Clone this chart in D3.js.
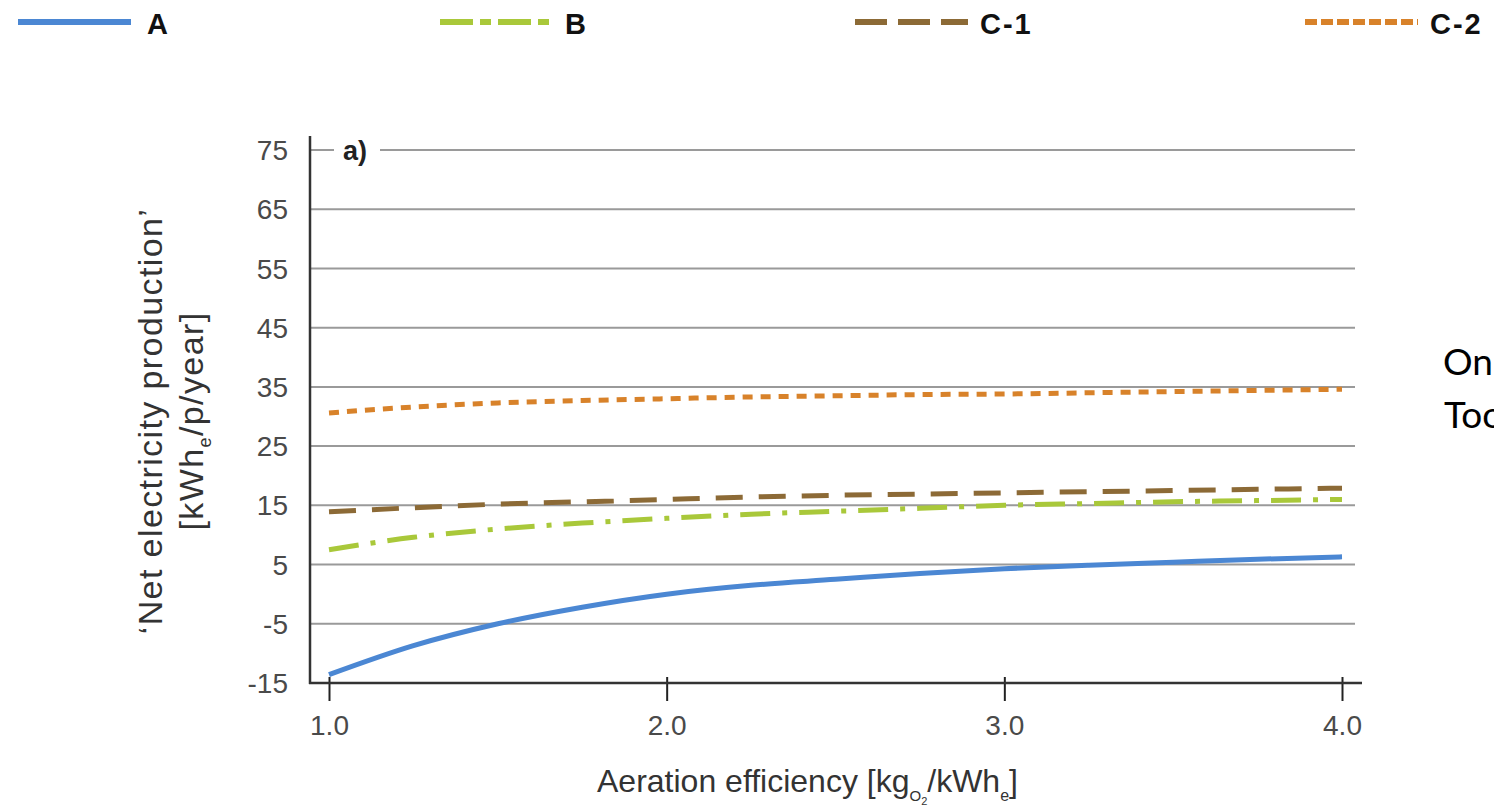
<!DOCTYPE html>
<html>
<head>
<meta charset="utf-8">
<script src="https://cdn.jsdelivr.net/npm/d3@7"></script>
<style>
  body { margin: 0; background: #fff; overflow: hidden; }
  .tick-label { font-family: "Liberation Sans", Arial, sans-serif; font-size: 28px; fill: #4a4a4a; }
  .axisText { font-family: "Liberation Sans", Arial, sans-serif; font-size: 32px; fill: #333; }
  .yText { font-size: 34px; letter-spacing: 1.4px; }
  .legendText { font-family: "Liberation Sans", Arial, sans-serif; font-size: 29px; font-weight: bold; fill: #111; letter-spacing: 2px; }
  .sideText { font-family: Lato, "Open Sans", sans-serif; font-size: 37px; fill: #000; }
</style>
</head>
<body>
<div id="chart"></div>
<script>
// data
var xValues = [1.0, 1.25, 1.5, 1.75, 2.0, 2.25, 2.5, 2.75, 3.0, 3.25, 3.5, 3.75, 4.0];
var seriesA = [-13.6, -8.7, -5.0, -2.2, 0.0, 1.5, 2.5, 3.5, 4.3, 4.9, 5.4, 5.9, 6.3];
var seriesB = [7.5, 9.6, 11.0, 12.0, 12.8, 13.5, 14.0, 14.5, 15.0, 15.3, 15.6, 15.8, 16.0];
var seriesC1 = [13.9, 14.6, 15.2, 15.6, 16.0, 16.4, 16.7, 16.9, 17.1, 17.3, 17.5, 17.7, 17.9];
var seriesC2 = [30.6, 31.6, 32.3, 32.7, 33.0, 33.3, 33.5, 33.7, 33.8, 34.0, 34.2, 34.4, 34.6];
var seriesNames = ["A", "B", "C-1", "C-2"];
var yTicks = [75, 65, 55, 45, 35, 25, 15, 5, -5, -15];
var xTicks = [1.0, 2.0, 3.0, 4.0];

var svgWidth = 1494;
var svgHeight = 809;

var svg = d3.select("#chart")
  .append("svg")
  .attr("width", svgWidth)
  .attr("height", svgHeight);

// line styles per series
var styles = {
  "A":   { color: "#4b87d3", dash: null,            legendDash: null },
  "B":   { color: "#a9c83a", dash: "30,12,5,12",    legendDash: "33,7,11,7" },
  "C-1": { color: "#8c6a36", dash: "27,16",         legendDash: "32,11" },
  "C-2": { color: "#d8822a", dash: "10,8",          legendDash: "12,4" }
};
var allSeries = [seriesA, seriesB, seriesC1, seriesC2];

// Step 1 - scales
var x = d3.scaleLinear().domain([1, 4]).range([329, 1342]);
var y = d3.scaleLinear().domain([-15, 75]).range([683, 150]);

// Step 2 - gridlines
svg.append("g")
  .selectAll("line")
  .data(yTicks)
  .enter()
  .append("line")
  .attr("x1", 310)
  .attr("x2", 1355)
  .attr("y1", d => y(d))
  .attr("y2", d => y(d))
  .attr("stroke", "#9a9a9a")
  .attr("stroke-width", 2);

// y tick labels
svg.append("g")
  .selectAll("text")
  .data(yTicks)
  .enter()
  .append("text")
  .attr("class", "tick-label")
  .attr("x", 288)
  .attr("y", d => y(d))
  .attr("dy", "0.36em")
  .attr("text-anchor", "end")
  .text(d => d);

// "a)" label with white box on the top gridline
svg.append("rect")
  .attr("x", 334).attr("y", 138)
  .attr("width", 46).attr("height", 26)
  .attr("fill", "#fff");
svg.append("text")
  .attr("x", 343)
  .attr("y", y(75))
  .attr("dy", "0.36em")
  .style("font-family", "Liberation Sans, Arial, sans-serif")
  .style("font-size", "27px")
  .style("font-weight", "bold")
  .style("fill", "#222")
  .text("a)");

// Step 3 - axes
svg.append("line")
  .attr("x1", 310).attr("x2", 310)
  .attr("y1", 136).attr("y2", 684)
  .attr("stroke", "#333").attr("stroke-width", 2.5);

var xaxis = d3.axisBottom(x)
  .tickValues(xTicks)
  .tickFormat(d3.format(".1f"))
  .tickSize(18)
  .tickSizeOuter(0);

var xg = svg.append("g")
  .attr("transform", "translate(0, 683)")
  .call(xaxis);
xg.select(".domain").remove();
xg.selectAll(".tick line")
  .attr("y1", -6)
  .attr("stroke", "#222")
  .attr("stroke-width", 2);
xg.selectAll(".tick text")
  .attr("class", "tick-label")
  .attr("y", 32)
  .attr("dy", "0.71em")
  .attr("font-family", null)
  .attr("font-size", null);
svg.append("line")
  .attr("x1", 309).attr("x2", 1362)
  .attr("y1", 683).attr("y2", 683)
  .attr("stroke", "#333").attr("stroke-width", 2.5);

// Step 4 - the curves
var line = d3.line()
  .x((d, i) => x(xValues[i]))
  .y(d => y(d))
  .curve(d3.curveMonotoneX);

svg.append("g")
  .selectAll("path")
  .data(allSeries)
  .enter()
  .append("path")
  .attr("d", d => line(d))
  .attr("fill", "none")
  .attr("stroke", (d, i) => styles[seriesNames[i]].color)
  .attr("stroke-width", 5)
  .attr("stroke-dasharray", (d, i) => styles[seriesNames[i]].dash);

// Step 5 - legend along the top
var legendX = [18, 440, 855, 1305];
var legend = svg.append("g")
  .selectAll("g")
  .data(seriesNames)
  .enter()
  .append("g")
  .attr("transform", (d, i) => `translate(${legendX[i]}, 22)`);
legend.append("line")
  .attr("x1", 0).attr("x2", 113)
  .attr("y1", 0).attr("y2", 0)
  .attr("stroke", d => styles[d].color)
  .attr("stroke-width", 6)
  .attr("stroke-dasharray", d => styles[d].legendDash);
legend.append("text")
  .attr("class", "legendText")
  .attr("x", (d, i) => i == 0 ? 129 : 125)
  .attr("y", 12)
  .text(d => d);

// Create axes labels
var yLabel = svg.append("text")
  .attr("class", "axisText yText")
  .attr("transform", "translate(162, 421) rotate(-90)")
  .attr("text-anchor", "middle");
yLabel.append("tspan").attr("x", 0).attr("y", 0).text("\u2018Net electricity production\u2019");
var yl2 = yLabel.append("tspan").attr("x", 0).attr("y", 41);
yl2.append("tspan").text("[kWh");
yl2.append("tspan").attr("dy", 8).style("font-size", "18px").text("e");
yl2.append("tspan").attr("dy", -8).text("/p/year]");

var xLabel = svg.append("text")
  .attr("class", "axisText")
  .attr("x", 597)
  .attr("y", 792);
xLabel.append("tspan").text("Aeration efficiency [kg");
xLabel.append("tspan").attr("dy", 9).style("font-size", "15px").text("O");
xLabel.append("tspan").attr("dy", 4).style("font-size", "11px").text("2");
xLabel.append("tspan").attr("dy", -13).text("/kWh");
xLabel.append("tspan").attr("dy", 9).style("font-size", "16px").text("e");
xLabel.append("tspan").attr("dy", -9).text("]");

// text cut at the right edge, as in the source picture
svg.append("text").attr("class", "sideText").attr("x", 1443).attr("y", 375).text("On");
svg.append("text").attr("class", "sideText").attr("x", 1444).attr("y", 428).text("Too");
</script>
</body>
</html>
